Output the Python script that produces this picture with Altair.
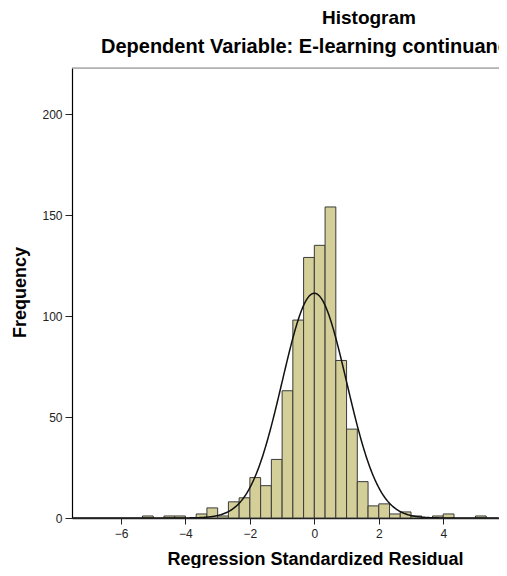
import altair as alt
import pandas as pd

# ---- data ----
bin_width = 1 / 3
bin_index = list(range(-16, 16))  # bin k spans [k/3, (k+1)/3)
counts = [1, 0, 1, 1, 0, 2, 5, 1, 8, 10, 20, 16, 29, 63, 98, 129,
          135, 154, 78, 44, 18, 6, 7, 2, 3, 1, 0, 1, 2, 0, 0, 1]
x_ticks = [-6, -4, -2, 0, 2, 4]
y_ticks = [0, 50, 100, 150, 200]
x_domain = [-7.52, 5.73]
y_domain = [0, 222.8]
curve_mean = 0.0
curve_sd = 0.999
n_total = sum(counts)

title_text = ["Histogram"]
subtitle_text = ["Dependent Variable: E-learning continuance intention"]
x_title = "Regression Standardized Residual"
y_title = "Frequency"

FONT = "Liberation Sans, Arial, Helvetica, sans-serif"
W, H = 427, 450

df = pd.DataFrame({
    "lo": [k * bin_width for k in bin_index],
    "hi": [(k + 1) * bin_width for k in bin_index],
    "count": counts,
})

x_scale = alt.Scale(domain=x_domain, nice=False, zero=False)
y_scale = alt.Scale(domain=y_domain, nice=False)

bars = alt.Chart(df).transform_filter("datum.count > 0").mark_bar(
    fill="#D4CF98", stroke="#3a3a3a", strokeWidth=1, clip=True
).encode(
    x=alt.X("lo:Q", scale=x_scale, axis=alt.Axis(
        values=x_ticks, title=x_title, grid=False,
        domainColor="#222", domainWidth=1.5, tickColor="#222", tickSize=6, tickWidth=1,
        labelFont=FONT, labelFontSize=12, labelColor="#222", labelPadding=4,
        titleFont=FONT, titleFontSize=18, titleFontWeight="bold", titleColor="#000",
        titleX=243, titleY=46, titleBaseline="alphabetic", titleAlign="center")),
    x2="hi:Q",
    y=alt.Y("count:Q", scale=y_scale, axis=alt.Axis(
        values=y_ticks, title=y_title, grid=False,
        domainColor="#000", domainWidth=1.2, tickColor="#222", tickSize=7, tickWidth=1,
        labelFont=FONT, labelFontSize=12, labelColor="#222", labelPadding=3,
        titleFont=FONT, titleFontSize=18, titleFontWeight="bold", titleColor="#000",
        titleAngle=270, titleX=-52, titleY=224, titleAlign="center", titleBaseline="middle")),
    y2=alt.datum(0),
)

curve = alt.Chart(alt.sequence(x_domain[0], x_domain[1], 0.02, as_="x")).transform_calculate(
    y=f"{n_total} * {bin_width} / ({curve_sd} * sqrt(2 * PI)) * exp(-0.5 * pow((datum.x - {curve_mean}) / {curve_sd}, 2))"
).mark_line(color="#111", strokeWidth=1.5, clip=True).encode(
    x=alt.X("x:Q", scale=x_scale),
    y=alt.Y("y:Q", scale=y_scale),
)

top_rule = alt.Chart(pd.DataFrame({"a": [0]})).mark_rule(color="#888", strokeWidth=1.2).encode(
    x=alt.value(0), x2=alt.value(W), y=alt.value(0)
)

title_mark = alt.Chart(pd.DataFrame({"t": title_text})).mark_text(
    font=FONT, fontSize=19, fontWeight="bold", color="#000", align="center", baseline="alphabetic"
).encode(x=alt.value(297), y=alt.value(-44), text="t:N")

subtitle_mark = alt.Chart(pd.DataFrame({"t": subtitle_text})).mark_text(
    font=FONT, fontSize=20, fontWeight="bold", color="#000", align="left", baseline="alphabetic"
).encode(x=alt.value(29), y=alt.value(-15), text="t:N")

chart = alt.layer(bars, curve, top_rule, title_mark, subtitle_mark).properties(
    width=W, height=H,
    autosize=alt.AutoSizeParams(type="none"),
    padding={"left": 64, "top": 60, "right": 0, "bottom": 50},
).configure_view(fill="#F0F0F0", stroke="transparent").configure(background="white")

chart.save("out.html", embed_options={"renderer": "svg", "actions": False})
